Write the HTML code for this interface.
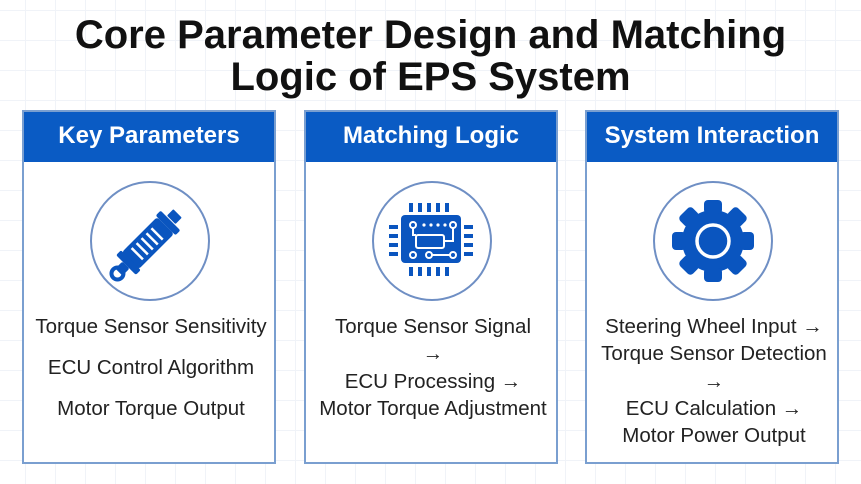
<!DOCTYPE html>
<html><head><meta charset="utf-8"><style>
*{margin:0;padding:0;box-sizing:border-box}
body{width:861px;height:484px;overflow:hidden;position:relative;font-family:"Liberation Sans",sans-serif;
background-color:#fff;
background-image:linear-gradient(#f0f3f8 1px,transparent 1px),linear-gradient(90deg,#f0f3f8 1px,transparent 1px);
background-size:30px 30px;background-position:25px 10px}
.title{position:absolute;left:0;width:861px;top:14px;text-align:center;font-weight:bold;font-size:40px;line-height:42px;color:#111}
.panel{position:absolute;top:110px;height:354px;width:254px;border:2px solid #7a9fd0;background:#fff}
.hd{height:50px;background:#0a5bc4;color:#fff;font-weight:bold;font-size:24px;text-align:center;line-height:48px}
.circ{position:absolute;left:66px;top:69px;width:120px;height:120px;border:2px solid #6f8fc4;border-radius:50%}
.circ svg{position:absolute;left:0;top:0}
.txt{position:absolute;left:-10px;width:274px;text-align:center;color:#222;font-size:20.5px}
</style></head><body>
<div class="title">Core Parameter Design and Matching<br>Logic of EPS System</div>

<div class="panel" style="left:22px">
<div class="hd">Key Parameters</div>
<div class="circ"><svg width="116" height="116" viewBox="0 0 116 116">
<g transform="rotate(-45 58 58)" fill="#0a55bf">
<rect x="30" y="46" width="50" height="24" rx="3"/>
<rect x="24" y="44" width="7" height="28" rx="2"/>
<rect x="80" y="44" width="7" height="28" rx="2"/>
<rect x="88" y="52" width="9" height="12" rx="1"/>
<rect x="14" y="53" width="10" height="10" rx="2"/>
<circle cx="12" cy="58" r="6" fill="none" stroke="#0a55bf" stroke-width="4"/>
<g stroke="#fff" stroke-width="2.5"><line x1="40" y1="50" x2="40" y2="66"/><line x1="47" y1="50" x2="47" y2="66"/><line x1="54" y1="50" x2="54" y2="66"/><line x1="61" y1="50" x2="61" y2="66"/><line x1="68" y1="50" x2="68" y2="66"/></g>
</g></svg></div>
<div class="txt" style="top:203px">Torque Sensor Sensitivity</div>
<div class="txt" style="top:244px">ECU Control Algorithm</div>
<div class="txt" style="top:285px">Motor Torque Output</div>
</div>

<div class="panel" style="left:304px">
<div class="hd">Matching Logic</div>
<div class="circ" style="left:66px"><svg width="116" height="116" viewBox="0 0 116 116">
<g fill="#0a55bf">
<rect x="27" y="32" width="60" height="48" rx="4"/>
<g><rect x="35" y="20" width="4" height="9"/><rect x="44" y="20" width="4" height="9"/><rect x="53" y="20" width="4" height="9"/><rect x="62" y="20" width="4" height="9"/><rect x="71" y="20" width="4" height="9"/>
<rect x="35" y="84" width="4" height="9"/><rect x="44" y="84" width="4" height="9"/><rect x="53" y="84" width="4" height="9"/><rect x="62" y="84" width="4" height="9"/><rect x="71" y="84" width="4" height="9"/>
<rect x="15" y="42" width="9" height="4"/><rect x="15" y="51" width="9" height="4"/><rect x="15" y="60" width="9" height="4"/><rect x="15" y="69" width="9" height="4"/>
<rect x="90" y="42" width="9" height="4"/><rect x="90" y="51" width="9" height="4"/><rect x="90" y="60" width="9" height="4"/><rect x="90" y="69" width="9" height="4"/></g>
</g>
<g fill="none" stroke="#fff" stroke-width="2">
<rect x="42" y="52" width="28" height="13" rx="2"/>
<circle cx="39" cy="42" r="3"/><circle cx="79" cy="42" r="3"/><circle cx="39" cy="72" r="3"/><circle cx="55" cy="72" r="3"/><circle cx="79" cy="72" r="3"/>
<path d="M39 45 V52 H42 M79 45 V58 H70 M58 72 H76"/>
</g>
<g fill="#fff"><circle cx="50" cy="42" r="1.6"/><circle cx="57" cy="42" r="1.6"/><circle cx="64" cy="42" r="1.6"/><circle cx="71" cy="42" r="1.6"/></g>
</svg></div>
<div class="txt" style="top:203px">Torque Sensor Signal</div>
<div class="txt" style="top:230px">→</div>
<div class="txt" style="top:258px">ECU Processing →</div>
<div class="txt" style="top:285px">Motor Torque Adjustment</div>
</div>

<div class="panel" style="left:585px">
<div class="hd">System Interaction</div>
<div class="circ" style="left:66px"><svg width="116" height="116" viewBox="0 0 116 116">
<g fill="#0a55bf" transform="translate(58 58)">
<circle r="31"/>
<g id="t"><rect x="-9" y="-41" width="18" height="14" rx="4"/></g>
<use href="#t" transform="rotate(45)"/><use href="#t" transform="rotate(90)"/><use href="#t" transform="rotate(135)"/><use href="#t" transform="rotate(180)"/><use href="#t" transform="rotate(225)"/><use href="#t" transform="rotate(270)"/><use href="#t" transform="rotate(315)"/>
<circle r="16" fill="none" stroke="#fff" stroke-width="3.5"/>
</g></svg></div>
<div class="txt" style="top:203px">Steering Wheel Input →</div>
<div class="txt" style="top:230px">Torque Sensor Detection</div>
<div class="txt" style="top:258px">→</div>
<div class="txt" style="top:285px">ECU Calculation →</div>
<div class="txt" style="top:312px">Motor Power Output</div>
</div>
</body></html>
